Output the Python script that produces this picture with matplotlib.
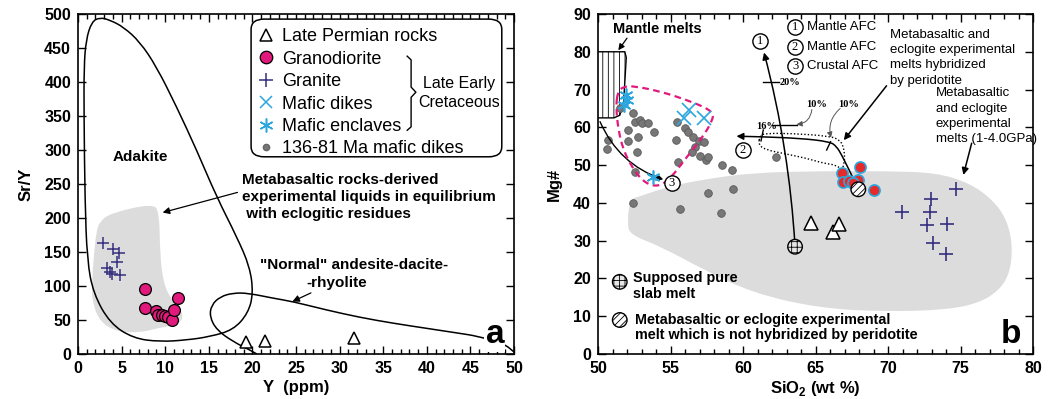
import numpy as np
import matplotlib
matplotlib.use("Agg")
import matplotlib.pyplot as plt
from matplotlib.path import Path
from matplotlib.patches import PathPatch, FancyBboxPatch
from matplotlib.lines import Line2D

plt.rcParams['font.family'] = ['Liberation Sans', 'DejaVu Sans']
plt.rcParams['mathtext.fontset'] = 'custom'
plt.rcParams['mathtext.rm'] = 'Liberation Sans'
plt.rcParams['mathtext.bf'] = 'Liberation Sans:bold'
plt.rcParams['hatch.linewidth'] = 0.6

MAGENTA = '#e2197c'
NAVY = '#34307f'
CYAN = '#2ba6de'
GRAYFILL = '#dcdcdc'

# ---------------- panel a : Y (ppm) vs Sr/Y ----------------
perm_y = [19.3, 21.5, 31.7]
perm_sry = [18, 19.6, 24]

gd_y = [7.7, 7.7, 9.0, 9.2, 9.6, 10.0, 10.3, 10.8, 11.0, 11.5]
gd_sry = [95, 68, 63, 57, 58, 56, 55, 50, 64, 82]

gr_y = [2.9, 4.05, 4.65, 4.5, 3.3, 3.7, 4.8, 3.9]
gr_sry = [163, 155, 148, 136, 127, 120, 116, 117]

# experimental liquids field
liq_y = [2.52, 3.67, 8.64, 9.33, 9.40, 9.79, 10.74, 11.89, 12.0, 11.12, 9.02, 7.1, 4.43, 2.52, 1.68, 1.57, 1.83, 2.14]
liq_sry = [194.6, 206.9, 221.6, 206.9, 148, 103.9, 79.4, 64.7, 50, 42.6, 37.7, 31.4, 32.8, 47.5, 74.5, 99, 148, 182.4]

# adakite field
adk_y = [0.92, 1.57, 2.52, 3.67, 5.2, 7.1, 9.0, 11.3, 13.6, 15.9, 18.2, 19.7, 20.1, 19.5, 17.8,
         15.1, 12.5, 9.4, 6.35, 3.67, 1.76, 1.05, 0.8, 0.69, 0.69]
adk_sry = [461.8, 488.7, 495, 491, 481, 459, 422.5, 363.7, 300, 231, 172.5, 128.4, 89.2, 59.8, 35.3,
           25.5, 20.6, 18, 23, 45, 89, 138, 226, 349, 422.5]

# normal andesite-dacite-rhyolite trend
nrm_y = [20.5, 19.7, 17.8, 15.9, 15.1, 15.3, 16.3, 17.8, 19.5, 22.4, 24.7, 28.5, 32.3, 36.2, 40.0, 43.8, 45.7, 48.8, 50]
nrm_sry = [0, 5.9, 18.1, 35.3, 54.9, 72, 84.3, 89.8, 89.5, 82, 76.9, 64.7, 53.9, 45.1, 37.7, 30.3, 26.5, 15.7, 3]

# ---------------- panel b : SiO2 vs Mg# ----------------
dk_si = [52.44, 52.55, 52.9, 53.0, 53.47, 52.09, 52.78, 53.88, 50.71, 50.6, 52.09, 52.67, 52.55,
         55.43, 55.38, 56.0, 56.23, 56.57, 56.97, 57.33, 56.69, 56.46, 57.03, 57.45, 57.6, 55.54,
         58.53, 59.22, 57.6, 59.33, 52.44, 55.66, 58.48, 62.28, 51.5]
dk_mg = [63.7, 61.5, 61.9, 61.1, 61.2, 59.3, 57.5, 58.8, 56.6, 54.2, 56.5, 53.6, 48.3,
         61.5, 56.6, 59.7, 58.8, 57.5, 56.4, 56.2, 54.9, 53.6, 52.4, 51.4, 52.2, 50.9,
         50.0, 48.7, 42.7, 43.6, 40.1, 38.3, 37.2, 52.1, 65.2]

mdike_si = [55.9, 56.3, 57.3]
mdike_mg = [62.6, 64.7, 62.4]

encl_si = [51.9, 52.0, 51.8, 53.8]
encl_mg = [68.6, 67.3, 65.9, 46.9]

gd_si = [66.8, 68.1, 66.9, 67.3, 67.9, 67.6, 69.0]
gd_mg = [47.9, 49.6, 45.6, 45.7, 46.1, 45.3, 43.3]

gr_si = [74.69, 72.97, 70.94, 72.9, 72.67, 74.1, 73.13, 73.98]
gr_mg = [43.6, 41.0, 37.5, 37.5, 34.1, 34.4, 29.3, 26.4]

perm_si = [64.7, 66.2, 66.6]
perm_mg = [34.7, 32.3, 34.3]

slab_si, slab_mg = 63.59, 28.4
unhyb_si, unhyb_mg = 67.95, 43.6

exp_si = [52.02, 52.2, 52.9, 54.96, 57.26, 60.7, 65.3, 69.9, 73.3, 75.6, 77.2, 78.2, 78.6, 78.4,
          77.7, 76.3, 74.0, 69.9, 65.3, 60.7, 57.3, 54.3, 52.2]
exp_mg = [34.7, 40.9, 41.8, 44.4, 46.2, 48.0, 48.4, 48.4, 48.0, 45.3, 40.9, 35.6, 28.5, 21.4,
          17.0, 13.5, 11.7, 11.2, 12.1, 16.1, 22.3, 28.5, 31.6]

pink_si = [51.36, 51.75, 52.55, 54.39, 56.0, 57.38, 57.95, 57.88, 57.38, 56.69, 55.88, 55.08,
           54.39, 53.7, 53.01, 52.32, 51.75, 51.4, 51.24]
pink_mg = [69.4, 70.8, 70.9, 69.4, 67.4, 65.3, 63.7, 61.8, 58.4, 54.9, 50.9, 46.9,
           44.7, 44.5, 46.1, 49.6, 54.0, 59.3, 65.5]

hyb_si = [61.17, 61.63, 63.24, 66.0, 66.69, 66.92, 67.03, 66.92, 66.8, 66.46, 65.54, 64.39, 62.78, 61.63, 61.06]
hyb_mg = [57.9, 58.4, 58.4, 57.7, 56.6, 54.9, 52.2, 49.6, 48.7, 50.0, 50.5, 51.8, 53.1, 54.0, 55.3]

mant_si = [50, 51.85, 51.95, 51.85, 51.75, 51.5, 51.1, 50]
mant_mg = [80, 80, 78.5, 72, 66, 63.2, 62.5, 62.5]

afc2_si = [67.84, 67.49, 67.15, 66.8, 66.46, 66.0, 63.93, 61.17]
afc2_mg = [44.3, 47.4, 50.0, 52.7, 54.9, 56.2, 57.1, 57.5]
afc2_tip = (59.55, 57.65)
afc1_tip = (61.45, 79.8)

afc_num = ['1', '2', '3']
afc_si = [61.17, 60.0, 55.08]
afc_mg = [82.8, 54.0, 45.2]
afc_key_mg = [86.6, 81.3, 76.2]
afc_key_txt = ['Mantle AFC', 'Mantle AFC', 'Crustal AFC']


def smooth_path(xs, ys, closed=False):
    pts = np.column_stack([xs, ys]).astype(float)
    if closed:
        mids = (pts + np.roll(pts, -1, axis=0)) / 2
        verts = [mids[-1]]
        codes = [Path.MOVETO]
        for i in range(len(pts)):
            verts += [pts[i], mids[i]]
            codes += [Path.CURVE3, Path.CURVE3]
        verts.append(mids[-1])
        codes.append(Path.CLOSEPOLY)
    else:
        mids = (pts[:-1] + pts[1:]) / 2
        verts = [pts[0], mids[0]]
        codes = [Path.MOVETO, Path.LINETO]
        for i in range(1, len(pts) - 1):
            verts += [pts[i], mids[i]]
            codes += [Path.CURVE3, Path.CURVE3]
        verts.append(pts[-1])
        codes.append(Path.LINETO)
    return Path(verts, codes)


def style_axes(ax):
    ax.tick_params(which='both', direction='in', top=True, right=True, width=1,
                   labelsize=11.5, pad=5)
    ax.tick_params(which='major', length=6)
    ax.tick_params(which='minor', length=3.5)
    ax.tick_params(axis='y', which='minor', left=False, right=False)
    for s in ax.spines.values():
        s.set_linewidth(1.2)
    plt.setp(ax.get_xticklabels() + ax.get_yticklabels(), fontweight='bold')


fig = plt.figure(figsize=(10.52, 3.99), dpi=100)
axA = fig.add_axes([78 / 1052, 45 / 399, 436 / 1052, 340 / 399])
axB = fig.add_axes([598 / 1052, 45 / 399, 435 / 1052, 340 / 399])

# ---------------- panel a ----------------
ax = axA
ax.set_xlim(0, 50)
ax.set_ylim(0, 500)
ax.set_xticks(np.arange(0, 51, 5))
ax.set_xticks(np.arange(0, 51, 1), minor=True)
ax.set_yticks(np.arange(0, 501, 50))
style_axes(ax)
ax.set_xlabel('Y  (ppm)', fontsize=12, fontweight='bold', labelpad=3)
ax.set_ylabel('Sr/Y', fontsize=12, fontweight='bold', labelpad=8)

ax.add_patch(PathPatch(smooth_path(liq_y, liq_sry, closed=True), fc=GRAYFILL, ec='none', zorder=1))
ax.add_patch(PathPatch(smooth_path(adk_y, adk_sry, closed=True), fc='none', ec='black', lw=1.1, zorder=2))
ax.add_patch(PathPatch(smooth_path(nrm_y, nrm_sry), fc='none', ec='black', lw=1.1, zorder=2))

ax.plot(gr_y, gr_sry, ls='none', marker='+', ms=9, mew=1.1, color=NAVY, zorder=4)
ax.plot(gd_y, gd_sry, ls='none', marker='o', ms=8.5, mfc=MAGENTA, mec='black', mew=0.9, zorder=5)
ax.plot(perm_y, perm_sry, ls='none', marker='^', ms=9, mfc='white', mec='black', mew=1.1, zorder=5)

ax.text(7.1, 290, 'Adakite', fontsize=11, fontweight='bold', ha='center', va='center')
ax.text(18.8, 231, 'Metabasaltic rocks-derived\nexperimental liquids in equilibrium\n with eclogitic residues',
        fontsize=11, fontweight='bold', ha='left', va='center', linespacing=1.3)
ax.annotate('', xy=(9.4, 207), xytext=(18.6, 238.7),
            arrowprops=dict(arrowstyle='-|>', color='black', lw=0.9, mutation_scale=10))
ax.text(20.9, 131, '"Normal" andesite-dacite-', fontsize=11, fontweight='bold', ha='left', va='center')
ax.text(29.7, 105, '-rhyolite', fontsize=11, fontweight='bold', ha='center', va='center')
ax.annotate('', xy=(24.3, 75.4), xytext=(27.0, 91.6),
            arrowprops=dict(arrowstyle='-|>', color='black', lw=0.9, mutation_scale=10))
ax.text(47.8, 15.7, 'a', fontsize=24, fontweight='bold', ha='center', va='baseline', zorder=6,
        bbox=dict(fc='white', ec='none', pad=1))

# legend box with the brace for the Cretaceous groups
ax.add_patch(FancyBboxPatch((0.397, 0.58), 0.575, 0.405, boxstyle='round,pad=0,rounding_size=0.03',
                            transform=ax.transAxes, fc='white', ec='black', lw=1.1, zorder=6))
handles = [
    Line2D([], [], ls='none', marker='^', ms=9, mfc='white', mec='black', mew=1.1),
    Line2D([], [], ls='none', marker='o', ms=9, mfc=MAGENTA, mec='black', mew=0.9),
    Line2D([], [], ls='none', marker='+', ms=10, mew=1.1, color=NAVY),
    Line2D([], [], ls='none', marker='x', ms=8, mew=1.1, color=CYAN),
    Line2D([], [], ls='none', marker=(6, 2, 0), ms=10, mew=1.1, color=CYAN),
    Line2D([], [], ls='none', marker='o', ms=4.5, mfc='#777777', mec='#666666'),
]
labels = ['Late Permian rocks', 'Granodiorite', 'Granite', 'Mafic dikes', 'Mafic enclaves', '136-81 Ma mafic dikes']
leg = ax.legend(handles, labels, loc='upper left', bbox_to_anchor=(0.41, 0.958), frameon=False,
                fontsize=13, handlelength=1.0, handletextpad=0.4, labelspacing=0.3,
                borderpad=0, borderaxespad=0)
leg.set_zorder(7)
bx = [0.755, 0.764, 0.764, 0.775, 0.764, 0.764, 0.755]
by = [0.876, 0.865, 0.785, 0.770, 0.755, 0.668, 0.658]
ax.plot(bx, by, color='black', lw=1.0, transform=ax.transAxes, zorder=8, solid_joinstyle='round')
ax.text(0.873, 0.768, 'Late Early\nCretaceous', fontsize=11.5, ha='center', va='center',
        transform=ax.transAxes, zorder=8, linespacing=1.3)

# ---------------- panel b ----------------
ax = axB
ax.set_xlim(50, 80)
ax.set_ylim(0, 90)
ax.set_xticks(np.arange(50, 81, 5))
ax.set_xticks(np.arange(50, 81, 1), minor=True)
ax.set_yticks(np.arange(0, 91, 10))
style_axes(ax)
ax.set_xlabel(r'SiO$_\mathbf{2}$ (wt %)', fontsize=12, fontweight='bold', labelpad=2)
ax.set_ylabel('Mg#', fontsize=12, fontweight='bold', labelpad=8)

ax.add_patch(PathPatch(smooth_path(exp_si, exp_mg, closed=True), fc=GRAYFILL, ec='none', zorder=1))
ax.add_patch(PathPatch(Path(np.column_stack([mant_si, mant_mg]), closed=False), fc='white',
                       ec='black', lw=1.0, hatch='|||', zorder=2))
ax.plot(dk_si, dk_mg, ls='none', marker='o', ms=5.5, mfc='#777777', mec='#5a5a5a', mew=0.6, zorder=3)
ax.add_patch(PathPatch(smooth_path(pink_si, pink_mg, closed=True), fc='none', ec=MAGENTA, lw=1.6,
                       ls=(0, (3, 2)), zorder=4))
ax.plot(mdike_si, mdike_mg, ls='none', marker='x', ms=10, mew=1.2, color=CYAN, zorder=5)
ax.plot(encl_si, encl_mg, ls='none', marker=(6, 2, 0), ms=10, mew=1.2, color=CYAN, zorder=5)

# hybridized experimental melt field and AFC paths
ax.add_patch(PathPatch(smooth_path(hyb_si, hyb_mg, closed=True), fc='none', ec='black', lw=1.0,
                       ls=(0, (1, 1.5)), zorder=3))
ax.add_patch(PathPatch(smooth_path(afc2_si, afc2_mg), fc='none', ec='black', lw=1.1, zorder=4))
ax.annotate('', xy=afc2_tip, xytext=(afc2_si[-1], afc2_mg[-1]),
            arrowprops=dict(arrowstyle='-|>', color='black', lw=1.1, mutation_scale=10,
                            shrinkA=0, shrinkB=0))
ax.annotate('', xy=afc1_tip, xytext=(slab_si, slab_mg),
            arrowprops=dict(arrowstyle='-|>', color='black', lw=1.1, mutation_scale=10,
                            shrinkA=0, shrinkB=0, connectionstyle='arc3,rad=0.05'))
ax.annotate('', xy=(54.5, 46.2), xytext=(50.14, 61.5),
            arrowprops=dict(arrowstyle='-|>', color='black', lw=1.0, mutation_scale=10,
                            shrinkA=0, shrinkB=0, connectionstyle='arc3,rad=0.22'))

# percentage marks on the AFC paths
ax.plot([61.4, 62.45], [71.9, 71.9], color='black', lw=1.0, zorder=4)
ax.plot([61.98, 63.7], [60.6, 60.6], color='black', lw=1.0, zorder=4)
ax.plot([61.24, 61.40], [56.4, 59.3], color='black', lw=1.0, zorder=4)
ax.plot([65.77, 66.04], [54.0, 56.2], color='black', lw=1.0, zorder=4)
pct_font = dict(family='Liberation Serif', fontsize=7.5, fontweight='bold', va='center')
ax.text(62.5, 71.9, '20%', ha='left', **pct_font)
ax.text(61.6, 60.3, '16%', ha='center', **pct_font)
ax.text(65.1, 66.0, '10%', ha='center', **pct_font)
ax.text(67.3, 66.0, '10%', ha='center', **pct_font)
ax.annotate('', xy=(63.7, 60.8), xytext=(64.75, 64.7),
            arrowprops=dict(arrowstyle='-|>', color='#555555', lw=0.7, mutation_scale=8,
                            shrinkA=0, shrinkB=0, connectionstyle='arc3,rad=-0.4'))
ax.annotate('', xy=(66.07, 57.3), xytext=(66.7, 65.0),
            arrowprops=dict(arrowstyle='-|>', color='#555555', lw=0.7, mutation_scale=8,
                            shrinkA=0, shrinkB=0, connectionstyle='arc3,rad=0.3'))

ax.plot(gd_si, gd_mg, ls='none', marker='o', ms=8, mfc='#e52a2a', mec=CYAN, mew=1.2, zorder=6)
ax.plot(gr_si, gr_mg, ls='none', marker='+', ms=10, mew=1.2, color=NAVY, zorder=5)
ax.plot(perm_si, perm_mg, ls='none', marker='^', ms=10, mfc='white', mec='black', mew=1.1, zorder=5)
ax.scatter([slab_si], [slab_mg], s=110, c='#e6e6e6', edgecolors='black', linewidths=1.0,
           hatch='+++', zorder=7)
ax.scatter([unhyb_si], [unhyb_mg], s=110, c='white', edgecolors='black', linewidths=1.0,
           hatch='/////', zorder=7)

# circled AFC path numbers
for num, x, y in zip(afc_num, afc_si, afc_mg):
    ax.plot(x, y, marker='o', ms=11, mfc='white', mec='black', mew=1.0, zorder=7)
    ax.text(x, y, num, family='Liberation Serif', fontsize=9, ha='center', va='center', zorder=8)
for num, y, txt in zip(afc_num, afc_key_mg, afc_key_txt):
    ax.plot(63.59, y, marker='o', ms=11, mfc='white', mec='black', mew=1.0, zorder=7)
    ax.text(63.59, y, num, family='Liberation Serif', fontsize=9, ha='center', va='center', zorder=8)
    ax.text(64.39, y, txt, fontsize=9.5, ha='left', va='center')

ax.text(51.06, 85.9, 'Mantle melts', fontsize=10.5, fontweight='bold', ha='left', va='center')
ax.annotate('', xy=(51.4, 80.4), xytext=(52.0, 83.6),
            arrowprops=dict(arrowstyle='-|>', color='black', lw=0.9, mutation_scale=9, shrinkA=0, shrinkB=0))

ax.text(70.14, 78.4, 'Metabasaltic and\neclogite experimental\nmelts hybridized\nby peridotite',
        fontsize=9.5, ha='left', va='center', linespacing=1.35)
ax.annotate('', xy=(66.95, 56.6), xytext=(69.9, 71.0),
            arrowprops=dict(arrowstyle='-|>', color='black', lw=1.1, mutation_scale=10, shrinkA=0, shrinkB=0))
ax.text(73.29, 62.95, 'Metabasaltic\nand eclogite\nexperimental\nmelts (1-4.0GPa)',
        fontsize=9.5, ha='left', va='center', linespacing=1.35)
ax.annotate('', xy=(75.2, 47.4), xytext=(75.77, 55.8),
            arrowprops=dict(arrowstyle='-|>', color='black', lw=1.1, mutation_scale=10, shrinkA=0, shrinkB=0))

ax.scatter([51.5], [19.1], s=110, c='#e6e6e6', edgecolors='black', linewidths=1.0, hatch='+++', zorder=7)
ax.text(52.41, 17.9, 'Supposed pure\nslab melt', fontsize=10.4, fontweight='bold', ha='left',
        va='center', linespacing=1.2)
ax.scatter([51.5], [9.0], s=110, c='white', edgecolors='black', linewidths=1.0, hatch='/////', zorder=7)
ax.text(52.53, 6.9, 'Metabasaltic or eclogite experimental\nmelt which is not hybridized by peridotite',
        fontsize=10.4, fontweight='bold', ha='left', va='center', linespacing=1.1)
ax.text(78.5, 2.8, 'b', fontsize=24, fontweight='bold', ha='center', va='baseline')

fig.savefig('out.png', dpi=100)
